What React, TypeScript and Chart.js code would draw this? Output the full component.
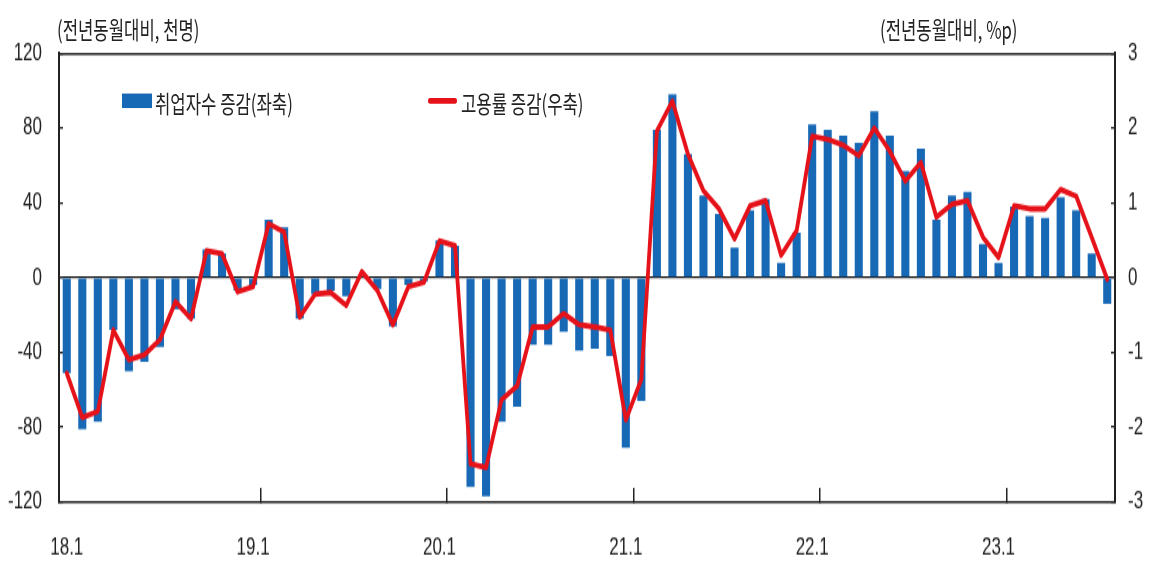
import React, { useEffect, useRef } from 'react';
import { Chart, registerables } from 'chart.js';

Chart.register(...registerables);

// ---- data ----
const categories = [
  '18.1', '18.2', '18.3', '18.4', '18.5', '18.6', '18.7', '18.8', '18.9', '18.10', '18.11', '18.12',
  '19.1', '19.2', '19.3', '19.4', '19.5', '19.6', '19.7', '19.8', '19.9', '19.10', '19.11', '19.12',
  '20.1', '20.2', '20.3', '20.4', '20.5', '20.6', '20.7', '20.8', '20.9', '20.10', '20.11', '20.12',
  '21.1', '21.2', '21.3', '21.4', '21.5', '21.6', '21.7', '21.8', '21.9', '21.10', '21.11', '21.12',
  '22.1', '22.2', '22.3', '22.4', '22.5', '22.6', '22.7', '22.8', '22.9', '22.10', '22.11', '22.12',
  '23.1', '23.2', '23.3', '23.4', '23.5', '23.6', '23.7', '23.8',
];

const xTickLabels = ['18.1', '19.1', '20.1', '21.1', '22.1', '23.1'];

// 취업자수 증감 (좌축, 천명)
const employedChange = [
  -51, -81, -77, -28, -50, -45, -37, -17, -22, 15, 13, -7,
  -4, 31, 27, -22, -9, -7, -10, 1, -6, -26, -4, -2,
  20, 17, -112, -117, -77, -69, -36, -36, -29, -39, -38, -42,
  -91, -66, 79, 98, 66, 44, 34, 16, 36, 42, 8, 24,
  82, 79, 76, 72, 89, 76, 57, 69, 31, 44, 46, 18,
  8, 38, 33, 32, 43, 36, 13, -14,
];

// 고용률 증감 (우축, %p)
const employmentRateChange = [
  -1.28, -1.87, -1.79, -0.7, -1.1, -1.03, -0.83, -0.32, -0.55, 0.36, 0.32, -0.19,
  -0.12, 0.72, 0.61, -0.53, -0.22, -0.2, -0.37, 0.08, -0.17, -0.63, -0.12, -0.06,
  0.49, 0.43, -2.49, -2.54, -1.63, -1.45, -0.66, -0.66, -0.48, -0.63, -0.66, -0.7,
  -1.9, -1.36, 1.96, 2.36, 1.65, 1.16, 0.92, 0.52, 0.96, 1.03, 0.3, 0.63,
  1.89, 1.85, 1.77, 1.63, 2.0, 1.69, 1.29, 1.54, 0.81, 0.98, 1.03, 0.54,
  0.27, 0.96, 0.92, 0.92, 1.18, 1.09, 0.54, -0.02,
];

const leftAxis = { min: -120, max: 120, step: 40 };
const rightAxis = { min: -3, max: 3, step: 1 };

const leftTitle = '(전년동월대비, 천명)';
const rightTitle = '(전년동월대비, %p)';
const barLegend = '취업자수 증감(좌축)';
const lineLegend = '고용률 증감(우축)';

// ---- layout ----
const S = 1.45; // vertical stretch of the reference
const W = 1136;
const H = 384;
const AREA_LEFT = 51;
const AREA_RIGHT = 1107;
const AREA_TOP = 40 / S;
const AREA_BOTTOM = 494 / S;

const BAR_COLOR = '#1769b6';
const LINE_COLOR = '#e5121a';
const AXIS_COLOR = '#222';
const TICK_FONT = { family: "'Liberation Sans', Arial, sans-serif", size: 17 };
const KR_FONT = "'Noto Sans CJK KR', 'Noto Sans', sans-serif";

export default function App() {
  const canvasRef = useRef<HTMLCanvasElement | null>(null);

  useEffect(() => {
    const canvas = canvasRef.current;
    if (!canvas) return;
    canvas.width = W;
    canvas.height = H;
    const chart = new Chart(canvas, {
      type: 'bar',
      data: {
        labels: categories,
        datasets: [
          {
            type: 'line',
            label: lineLegend,
            data: employmentRateChange,
            yAxisID: 'y2',
            borderColor: LINE_COLOR,
            borderWidth: 3.8,
            pointRadius: 0,
            tension: 0,
            borderJoinStyle: 'round',
            borderCapStyle: 'round',
            order: 1,
          } as any,
          {
            type: 'bar',
            label: barLegend,
            data: employedChange,
            yAxisID: 'y',
            backgroundColor: BAR_COLOR,
            barPercentage: 0.52,
            categoryPercentage: 1,
            order: 2,
          } as any,
        ],
      },
      options: {
        animation: false,
        responsive: false,
        maintainAspectRatio: false,
        devicePixelRatio: 1,
        layout: { padding: { top: AREA_TOP, left: 0, right: 0, bottom: 0 } },
        plugins: {
          legend: { display: false },
          tooltip: { enabled: false },
          title: { display: false },
        },
        scales: {
          x: {
            type: 'category',
            position: 'bottom',
            offset: true,
            grid: {
              offset: true,
              drawOnChartArea: false,
              color: (ctx: any) =>
                ctx.index > 1 && xTickLabels.includes(categories[ctx.index - 1]) ? AXIS_COLOR : 'rgba(0,0,0,0)',
              lineWidth: 1.5,
              tickLength: -9.7,
            },
            border: { display: true, color: AXIS_COLOR, width: 1.4 },
            ticks: {
              autoSkip: false,
              maxRotation: 0,
              minRotation: 0,
              padding: 31.2,
              color: AXIS_COLOR,
              font: TICK_FONT,
              callback: (_v: any, idx: number) => (xTickLabels.includes(categories[idx]) ? categories[idx] : ''),
            },
            afterFit: (s: any) => {
              s.height = H - AREA_BOTTOM;
            },
          },
          xTop: {
            type: 'category',
            position: 'top',
            display: true,
            ticks: { display: false },
            grid: { display: false },
            border: { display: true, color: AXIS_COLOR, width: 1.4 },
            afterFit: (s: any) => {
              s.height = 0;
            },
          },
          y: {
            type: 'linear',
            position: 'left',
            min: leftAxis.min,
            max: leftAxis.max,
            ticks: { stepSize: leftAxis.step, padding: 21, color: AXIS_COLOR, font: TICK_FONT },
            grid: {
              color: (ctx: any) => (ctx.tick && ctx.tick.value === 0 ? '#111' : 'rgba(0,0,0,0)'),
              tickColor: AXIS_COLOR,
              lineWidth: 1.3,
              tickLength: -4,
            },
            border: { display: true, color: AXIS_COLOR, width: 2 },
            afterFit: (s: any) => {
              s.width = AREA_LEFT;
            },
          },
          y2: {
            type: 'linear',
            position: 'right',
            min: rightAxis.min,
            max: rightAxis.max,
            ticks: { stepSize: rightAxis.step, padding: 17, color: AXIS_COLOR, font: TICK_FONT },
            grid: {
              drawOnChartArea: false,
              color: AXIS_COLOR,
              lineWidth: 1.3,
              tickLength: -4,
            },
            border: { display: true, color: AXIS_COLOR, width: 2 },
            afterFit: (s: any) => {
              s.width = W - AREA_RIGHT;
            },
          },
        },
      } as any,
    });
    return () => chart.destroy();
  }, []);

  const textStyle: React.CSSProperties = {
    position: 'absolute',
    fontFamily: KR_FONT,
    fontSize: '16.7px',
    color: AXIS_COLOR,
    whiteSpace: 'nowrap',
    lineHeight: '19px',
    transform: 'translateY(-50%)',
  };

  return (
    <div style={{ position: 'relative', width: W + 'px', height: Math.floor(H * S) + 'px' }}>
      <div
        style={{
          position: 'absolute',
          left: 0,
          top: 0,
          width: W + 'px',
          height: H + 'px',
          transform: `scaleY(${S})`,
          transformOrigin: '0 0',
        }}
      >
        <canvas
          ref={canvasRef}
          width={W}
          height={H}
          style={{ position: 'absolute', left: 0, top: 0, width: W + 'px', height: H + 'px', display: 'block' }}
        />
        <span style={{ ...textStyle, left: '49px', top: 14.5 + 'px' }}>{leftTitle}</span>
        <span style={{ ...textStyle, left: '872px', top: 14.5 + 'px' }}>{rightTitle}</span>
        <div
          style={{
            position: 'absolute',
            left: '114px',
            top: 64.1 - 4.75 + 'px',
            width: '30px',
            height: '9.5px',
            background: BAR_COLOR,
          }}
        />
        <span style={{ ...textStyle, left: '147px', top: 65.5 + 'px' }}>{barLegend}</span>
        <div
          style={{
            position: 'absolute',
            left: '420px',
            top: 64.1 - 2 + 'px',
            width: '29px',
            height: '4px',
            background: LINE_COLOR,
            borderRadius: '2px',
          }}
        />
        <span style={{ ...textStyle, left: '453px', top: 65.5 + 'px' }}>{lineLegend}</span>
      </div>
    </div>
  );
}
